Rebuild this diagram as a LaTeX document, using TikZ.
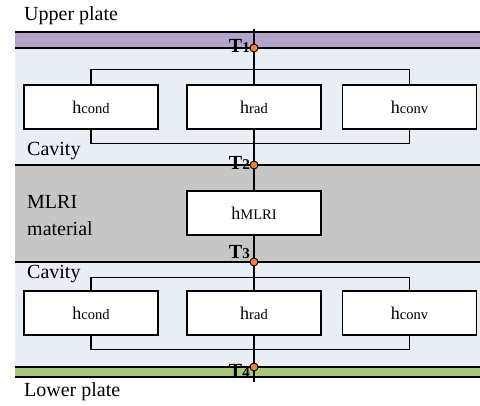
\documentclass[tikz,border=0pt]{standalone}
\usepackage{fontspec}
\setmainfont{Liberation Serif}
\definecolor{plateup}{RGB}{178,164,202}
\definecolor{platelow}{RGB}{168,199,125}
\definecolor{cavityfill}{RGB}{233,237,244}
\definecolor{mlrifill}{RGB}{198,198,198}
\definecolor{tdot}{RGB}{240,132,52}
\newcommand{\hsub}[1]{h{\fontsize{14.5}{14.5}\selectfont #1}}
\newcommand{\tsub}[1]{T{\fontsize{15}{15}\selectfont #1}}
\begin{document}
\begin{tikzpicture}[x=1pt,y=-1pt,
  hbox/.style={draw, line width=1.1pt, fill=white, minimum width=134pt, minimum height=44pt, inner sep=0pt, font=\fontsize{18}{18}\selectfont},
  tnode/.style={circle, draw, line width=0.9pt, fill=tdot, minimum size=8pt, inner sep=0pt},
  tlabel/.style={anchor=east, inner sep=0pt, font=\bfseries\fontsize{20}{20}\selectfont},
  layername/.style={anchor=west, inner sep=0pt, align=left, font=\fontsize{20}{27}\selectfont},
  wire/.style={line width=1.1pt}]
\useasboundingbox (0,0) rectangle (480,406);

% layers
\fill[cavityfill] (15,48) rectangle (480,367);
\fill[mlrifill] (15,165) rectangle (480,262);
\fill[plateup] (15,32) rectangle (480,48);
\fill[platelow] (15,367) rectangle (480,377);
\draw[line width=1.2pt] (15,32) -- (480,32);
\draw[line width=1.2pt] (15,48) -- (480,48);
\draw[line width=1.2pt] (15,165) -- (480,165);
\draw[line width=1.2pt] (15,262) -- (480,262);
\draw[line width=1.2pt] (15,367) -- (480,367);
\draw[line width=1.2pt] (15,377) -- (480,377);

\node[layername] (upper) at (24,16) {Upper plate};
\node[layername] (cavA) at (27,151) {Cavity};
\node[layername] (mat) at (27,216) {MLRI\\material};
\node[layername] (cavB) at (27,274) {Cavity};
\node[layername] (lower) at (24,392) {Lower plate};

% boxes
\node[hbox] (condA) at (91,107) {\hsub{cond}};
\node[hbox] (radA) at (254,107) {\hsub{rad}};
\node[hbox] (convA) at (409.5,107) {\hsub{conv}};
\node[hbox] (mlri) at (254,213) {\hsub{MLRI}};
\node[hbox] (condB) at (91,313) {\hsub{cond}};
\node[hbox] (radB) at (254,313) {\hsub{rad}};
\node[hbox] (convB) at (409.5,313) {\hsub{conv}};

% temperature points
\coordinate (spinetop) at (254,29);
\coordinate (spinebot) at (254,382);
\node[tnode] (T1) at (254,48) {};
\node[tnode] (T2) at (254,165) {};
\node[tnode] (T3) at (254,262) {};
\node[tnode] (T4) at (254,367) {};
\node[tlabel] at (250,46) {\tsub{1}};
\node[tlabel] at (250,163) {\tsub{2}};
\node[tlabel] at (250,252) {\tsub{3}};
\node[tlabel] at (250,371) {\tsub{4}};

% connections
\draw[wire] (spinetop) -- (T1);
\draw[wire] (T1) -- (radA);
\draw[wire] (condA.north) -- ++(0,-15) -| (convA.north);
\draw[wire] (condA.south) -- ++(0,14) -| (convA.south);
\draw[wire] (radA) -- (T2);
\draw[wire] (T2) -- (mlri);
\draw[wire] (mlri) -- (T3);
\draw[wire] (T3) -- (radB);
\draw[wire] (condB.north) -- ++(0,-13) -| (convB.north);
\draw[wire] (condB.south) -- ++(0,14) -| (convB.south);
\draw[wire] (radB) -- (T4);
\draw[wire] (T4) -- (spinebot);
\end{tikzpicture}
\end{document}
